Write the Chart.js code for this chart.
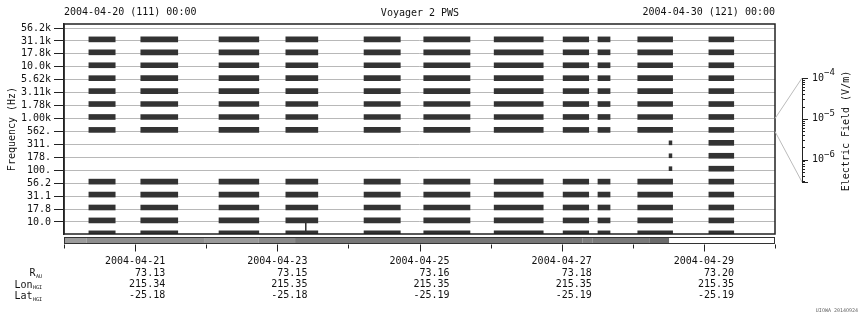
<!DOCTYPE html>
<html lang="en">
<head>
<meta charset="UTF-8">
<title>Voyager 2 PWS</title>
<script src="https://cdn.jsdelivr.net/npm/chart.js@4.4.1/dist/chart.umd.min.js"></script>
<style>
    html, body { margin:0; padding:0; background:#fff; }
    #wrap { width:860px; height:320px; }
</style>
</head>
<body>
<div id="wrap"><canvas id="c" width="860" height="320"></canvas></div>
<script>
// Frequency channel labels, top to bottom
const FREQ_LABELS = ['56.2k','31.1k','17.8k','10.0k','5.62k','3.11k','1.78k','1.00k',
                     '562.','311.','178.','100.','56.2','31.1','17.8','10.0'];

// Observation windows, in days since 2004-04-20 00:00
const WIN_START = [0.35, 1.08, 2.18, 3.12, 4.22, 5.06, 6.05, 7.02, 7.51, 8.07, 9.07];
const WIN_END   = [0.72, 1.60, 2.74, 3.57, 4.73, 5.71, 6.74, 7.38, 7.68, 8.56, 9.42];

// Channel rows with signal (0 = 56.2k line ... 15 = 10.0 line, 16 = one below)
const ROWS_COMMON = [1, 2, 3, 4, 5, 6, 7, 8, 12, 13, 14, 15, 16];
const ROWS_EXTRA  = [[], [], [], [], [], [], [], [], [], [], [9, 10, 11]];

// Short bursts at the end of window 10
const BURST_START = [8.51, 8.51, 8.51];
const BURST_END   = [8.55, 8.55, 8.55];
const BURST_ROWS  = [9, 10, 11];

// Single spike in window 4
const SPIKE_DAY  = [3.40, 3.40];
const SPIKE_ROWS = [15, 15.9];

// Bottom annotation
const TICK_DAYS  = [1, 3, 5, 7, 9];
const TICK_DATES = ['2004-04-21', '2004-04-23', '2004-04-25', '2004-04-27', '2004-04-29'];
const R_AU       = ['73.13', '73.15', '73.16', '73.18', '73.20'];
const LON_HGI    = ['215.34', '215.35', '215.35', '215.35', '215.35'];
const LAT_HGI    = ['-25.18', '-25.18', '-25.19', '-25.19', '-25.19'];

// Coverage strip below the plot
const STRIP_EDGES  = [0, 0.32, 1.97, 2.74, 3.25, 7.29, 7.43, 8.24, 8.51];
const STRIP_SHADES = ['#9c9c9c', '#8e8e8e', '#9a9a9a', '#8a8a8a', '#777777', '#7f7f7f', '#7a7a7a', '#6b6b6b'];

// Colour bar scale (log10 V/m)
const CB_EXP = [-4, -5, -6];
const CB_MIN = -6.55, CB_MAX = -4;

const FONT = 'DejaVu Sans Mono';
const rowVal = r => 15 - r;

// Build bar list from the windows
const bars = [];
WIN_START.forEach((s, w) => {
    ROWS_COMMON.concat(ROWS_EXTRA[w]).forEach(r => {
        bars.push({x: [s, WIN_END[w]], y: rowVal(r) + 0.12});
    });
});
const bursts = BURST_ROWS.map((r, i) => ({x: [BURST_START[i], BURST_END[i]], y: rowVal(r) + 0.12}));
const spike = SPIKE_DAY.map((d, i) => ({x: d, y: rowVal(SPIKE_ROWS[i])}));

// Draws frame, coverage strip, day ticks, headers, colour bar
const decor = {
    id: 'decor',
    afterDraw(chart) {
        const ctx = chart.ctx, a = chart.chartArea;
        const xs = chart.scales.x, ys = chart.scales.y;
        ctx.save();

        // frame
        ctx.strokeStyle = '#222';
        ctx.lineWidth = 1.5;
        ctx.strokeRect(a.left, a.top, a.right - a.left, a.bottom - a.top);

        // coverage strip
        const sTop = a.bottom + 3.5, sH = 6;
        for (let i = 0; i < STRIP_SHADES.length; i++) {
            const x0 = xs.getPixelForValue(STRIP_EDGES[i]);
            const x1 = xs.getPixelForValue(STRIP_EDGES[i + 1]);
            ctx.fillStyle = STRIP_SHADES[i];
            ctx.fillRect(x0, sTop, x1 - x0, sH);
        }
        ctx.strokeStyle = '#333';
        ctx.lineWidth = 1;
        ctx.strokeRect(a.left + 0.5, sTop, a.right - a.left - 1, sH);

        // day ticks
        ctx.strokeStyle = '#222';
        for (let d = 0; d <= 10; d++) {
            const x = Math.round(xs.getPixelForValue(d)) + 0.5;
            ctx.beginPath();
            ctx.moveTo(x, sTop + sH + 1);
            ctx.lineTo(x, sTop + sH + (d % 2 ? 8 : 5));
            ctx.stroke();
        }

        // header texts
        ctx.fillStyle = '#111';
        ctx.font = '10px "' + FONT + '"';
        ctx.textBaseline = 'middle';
        ctx.textAlign = 'left';
        ctx.fillText('2004-04-20 (111) 00:00', a.left, 12);
        ctx.textAlign = 'center';
        ctx.fillText('Voyager 2 PWS', 420, 13);
        ctx.textAlign = 'right';
        ctx.fillText('2004-04-30 (121) 00:00', a.right, 12);

        // row labels for ephemeris
        const rowNames = [['R', 'AU'], ['Lon', 'HGI'], ['Lat', 'HGI']];
        rowNames.forEach((n, i) => {
            const y = 273.5 + i * 11.5;
            ctx.font = '5px "' + FONT + '"';
            ctx.textAlign = 'right';
            const sw = ctx.measureText(n[1]).width;
            ctx.fillText(n[1], 42, y + 3);
            ctx.font = '10px "' + FONT + '"';
            ctx.fillText(n[0], 42 - sw - 0.5, y);
        });

        // colour bar axis
        const cbX = 802, cbTop = 78, cbBot = 182;
        const cbY = v => cbTop + (CB_MAX - v) / (CB_MAX - CB_MIN) * (cbBot - cbTop);
        ctx.strokeStyle = '#bbb';
        ctx.beginPath();
        ctx.moveTo(a.right, ys.getPixelForValue(rowVal(7)));
        ctx.lineTo(cbX, cbTop);
        ctx.moveTo(a.right, ys.getPixelForValue(rowVal(8)));
        ctx.lineTo(cbX, cbBot);
        ctx.stroke();

        ctx.strokeStyle = '#222';
        ctx.beginPath();
        ctx.moveTo(cbX + 0.5, cbTop);
        ctx.lineTo(cbX + 0.5, cbBot);
        for (let e = -4; e >= -7; e--) {
            for (let m = 1; m <= 9; m++) {
                const v = e + Math.log10(m);
                if (v > CB_MAX + 1e-9 || v < CB_MIN) continue;
                const y = Math.round(cbY(v)) + 0.5;
                ctx.moveTo(cbX, y);
                ctx.lineTo(cbX + (m === 1 ? 6 : 3), y);
            }
        }
        ctx.moveTo(cbX, cbBot + 0.5);
        ctx.lineTo(cbX + 6, cbBot + 0.5);
        ctx.stroke();

        ctx.fillStyle = '#111';
        ctx.textAlign = 'left';
        CB_EXP.forEach(e => {
            const y = cbY(e);
            ctx.font = '10px "' + FONT + '"';
            ctx.fillText('10', 812, y);
            ctx.font = '9px "' + FONT + '"';
            ctx.fillText(String(e).replace('-', '\u2212'), 824, y - 5);
        });

        ctx.save();
        ctx.translate(846, 131);
        ctx.rotate(-Math.PI / 2);
        ctx.textAlign = 'center';
        ctx.font = '10px "' + FONT + '"';
        ctx.fillText('Electric Field (V/m)', 0, 0);
        ctx.restore();

        // watermark
        ctx.font = '5px "' + FONT + '"';
        ctx.textAlign = 'right';
        ctx.fillStyle = '#666';
        ctx.fillText('UIOWA 2014O924', 858, 311);

        ctx.restore();
    }
};

const pad10 = s => s.padStart(10, ' ');

new Chart(document.getElementById('c'), {
    type: 'bar',
    data: {
        datasets: [
            {
                data: bars,
                backgroundColor: '#333333',
                barThickness: 5,
                grouped: false,
            },
            {
                data: bursts,
                backgroundColor: '#333333',
                barThickness: 4,
                grouped: false,
            },
            {
                type: 'line',
                indexAxis: 'x',
                data: spike,
                borderColor: '#333333',
                borderWidth: 1,
                pointRadius: 0,
            },
        ],
    },
    options: {
        indexAxis: 'y',
        responsive: false,
        animation: false,
        layout: { padding: { left: 0, right: 85, top: 24, bottom: 0 } },
        plugins: { legend: { display: false }, tooltip: { enabled: false } },
        scales: {
            x: {
                type: 'linear',
                offset: false,
                min: 0,
                max: 10,
                grid: { display: false, drawTicks: false, offset: false },
                border: { display: false },
                ticks: {
                    stepSize: 1,
                    autoSkip: false,
                    maxRotation: 0,
                    padding: 22,
                    color: '#111',
                    font: { family: FONT, size: 10, lineHeight: 1.13 },
                    callback: v => {
                        const i = TICK_DAYS.indexOf(v);
                        if (i < 0) return '';
                        return [TICK_DATES[i], pad10(R_AU[i]), pad10(LON_HGI[i]), pad10(LAT_HGI[i])];
                    },
                },
                afterFit: s => { s.height = 86; },
            },
            y: {
                type: 'linear',
                offset: false,
                min: -0.93,
                max: 15.31,
                afterBuildTicks: s => { s.ticks = FREQ_LABELS.map((_, i) => ({ value: rowVal(i) })); },
                grid: { color: '#b8b8b8', tickColor: '#222', tickLength: 10, offset: false },
                border: { color: '#222', width: 1.5 },
                ticks: {
                    autoSkip: false,
                    padding: 3,
                    color: '#111',
                    font: { family: FONT, size: 10 },
                    callback: v => FREQ_LABELS[15 - Math.round(v)],
                },
                title: {
                    display: true,
                    text: 'Frequency (Hz)',
                    color: '#111',
                    font: { family: FONT, size: 10 },
                    padding: { top: 6, bottom: 0 },
                },
                afterFit: s => { s.width = 64; },
            },
        },
    },
    plugins: [decor],
});
</script>
</body>
</html>
